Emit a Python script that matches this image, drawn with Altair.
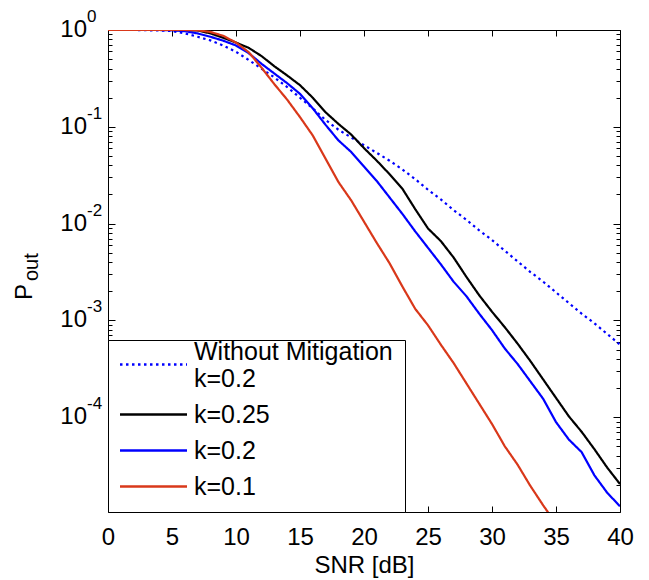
import altair as alt
import pandas as pd

# ---------------- data ----------------
snr = list(range(0, 41))

series_names = ["Without Mitigation k=0.2", "k=0.25", "k=0.2", "k=0.1"]

# log10(P_out) at SNR = 0,1,...,40 dB
without_mitigation_log10 = [0, 0, 0, -0.002, -0.005, -0.01, -0.035, -0.07, -0.107, -0.16,
                            -0.225, -0.31, -0.40, -0.49, -0.59, -0.70, -0.81, -0.93, -1.03, -1.11,
                            -1.19, -1.27, -1.35, -1.44, -1.54, -1.65, -1.75, -1.86, -1.96, -2.07,
                            -2.17, -2.28, -2.39, -2.50, -2.60, -2.71, -2.82, -2.93, -3.03, -3.14,
                            -3.25]
k025_log10 = [0, 0, 0, 0, 0, 0, -0.002, -0.005, -0.035, -0.08,
              -0.13, -0.185, -0.27, -0.375, -0.47, -0.57, -0.70, -0.85, -0.97, -1.08,
              -1.22, -1.35, -1.49, -1.64, -1.85, -2.05, -2.18, -2.35, -2.55, -2.74,
              -2.91, -3.07, -3.24, -3.42, -3.61, -3.80, -3.99, -4.15, -4.33, -4.52,
              -4.69]
k02_log10 = [0, 0, 0, 0, 0, -0.003, -0.012, -0.035, -0.07, -0.11,
             -0.16, -0.24, -0.35, -0.45, -0.55, -0.66, -0.81, -0.98, -1.14, -1.26,
             -1.41, -1.56, -1.73, -1.90, -2.08, -2.25, -2.42, -2.60, -2.75, -2.93,
             -3.10, -3.29, -3.45, -3.63, -3.81, -4.05, -4.23, -4.36, -4.60, -4.78,
             -4.92]
k01_log10 = [0, 0, 0, 0, 0, 0, 0, -0.003, -0.02, -0.06,
             -0.13, -0.23, -0.39, -0.56, -0.72, -0.90, -1.09, -1.33, -1.57, -1.76,
             -1.98, -2.20, -2.41, -2.65, -2.88, -3.05, -3.25, -3.44, -3.65, -3.86,
             -4.07, -4.30, -4.49, -4.71, -4.91, -5.10]

series_log10 = [without_mitigation_log10, k025_log10, k02_log10, k01_log10]
series_colors = ["#0000FF", "#000000", "#0000FF", "#D9381A"]
series_dash = [[2.5, 3.5], [1, 0], [1, 0], [1, 0]]

x_ticks = [0, 5, 10, 15, 20, 25, 30, 35, 40]
y_major_exps = [0, -1, -2, -3, -4]
y_minor_mult = [2, 3, 4, 5, 6, 7, 8, 9]
y_minor_exps = [-5, -4, -3, -2, -1]

# ---------------- build tables ----------------
rows = []
for name, vals in zip(series_names, series_log10):
    for s, v in zip(snr, vals):
        rows.append({"snr": s, "p": 10 ** v, "series": name})
df = pd.DataFrame(rows)

y_major = [10.0 ** e for e in y_major_exps]
y_minor = [m * 10.0 ** e for e in y_minor_exps for m in y_minor_mult if m * 10.0 ** e < 1]
lab_df = pd.DataFrame({"p": y_major, "exp": [str(e) for e in y_major_exps]})

W, H = 512, 482
FONT = "Liberation Sans"

xscale = alt.Scale(domain=[0, 40], nice=False, zero=False)
yscale = alt.Scale(type="log", domain=[1.05e-5, 1], nice=False)

two_line = "datum.label == 'Without Mitigation k=0.2'"
legend = alt.Legend(
    orient="bottom-left", offset=0, title=None,
    labelFont=FONT, labelFontSize=25, labelColor="black", labelLimit=400,
    labelOffset=28,
    labelExpr=two_line + " ? ['Without Mitigation', 'k=0.2'] : datum.label",
    labelBaseline=alt.ExprRef(two_line + " ? 'bottom' : 'middle'"),
    symbolType="M-3,0H3", symbolSize=499, symbolStrokeWidth=2.5, symbolOffset=21,
    strokeColor="black", fillColor="white", padding=12, rowPadding=10,
)

lines = alt.Chart(df).mark_line(strokeWidth=2.2, clip=True).encode(
    x=alt.X("snr:Q", scale=xscale,
            axis=alt.Axis(values=x_ticks, title="SNR [dB]", ticks=False, tickSize=0,
                          labelFont=FONT, labelFontSize=24, labelColor="black",
                          labelPadding=13, labelFlush=False, labelOverlap=False,
                          titleFont=FONT, titleFontSize=24, titleFontWeight="normal",
                          titleColor="black", titlePadding=4, grid=False,
                          domainColor="black", domainWidth=1)),
    y=alt.Y("p:Q", scale=yscale,
            axis=alt.Axis(labels=False, ticks=False, tickSize=0, title=None, grid=False,
                          domainColor="black", domainWidth=1)),
    color=alt.Color("series:N", scale=alt.Scale(domain=series_names, range=series_colors),
                    sort=series_names, legend=legend),
    strokeDash=alt.StrokeDash("series:N", scale=alt.Scale(domain=series_names, range=series_dash),
                              sort=series_names, legend=legend),
    order=alt.Order("snr:Q"),
)


def x_tick_layer(orient, show_domain):
    return alt.Chart(df).mark_rule(opacity=0).encode(
        x=alt.X("snr:Q", scale=xscale,
                axis=alt.Axis(orient=orient, offset=-H, values=x_ticks, labels=False,
                              ticks=True, tickSize=6, tickColor="black", tickWidth=1,
                              domain=show_domain, domainColor="black", domainWidth=1,
                              grid=False, title=None)))


def y_tick_layer(orient, values, size, show_domain):
    return alt.Chart(df).mark_rule(opacity=0).encode(
        y=alt.Y("p:Q", scale=yscale,
                axis=alt.Axis(orient=orient, offset=-W, values=values, labels=False,
                              ticks=True, tickSize=size, tickColor="black", tickWidth=1,
                              domain=show_domain, domainColor="black", domainWidth=1,
                              grid=False, title=None)))


xt_bottom = x_tick_layer("top", False)
xt_top = x_tick_layer("bottom", True)
yt_left_major = y_tick_layer("right", y_major, 7, False)
yt_left_minor = y_tick_layer("right", y_minor, 4, False)
yt_right_major = y_tick_layer("left", y_major, 7, True)
yt_right_minor = y_tick_layer("left", y_minor, 4, False)

ten_text = alt.Chart(lab_df).mark_text(
    align="right", baseline="middle", font=FONT, fontSize=24, color="black"
).encode(x=alt.value(-21), y=alt.Y("p:Q", scale=yscale, axis=None), text=alt.value("10"))

exp_text = alt.Chart(lab_df).mark_text(
    align="left", baseline="middle", font=FONT, fontSize=17, color="black", dy=-13
).encode(x=alt.value(-21), y=alt.Y("p:Q", scale=yscale, axis=None), text="exp:N")

title_df = pd.DataFrame({"t": ["P"]})
p_text = alt.Chart(title_df).mark_text(
    align="left", baseline="alphabetic", angle=270, font=FONT, fontSize=24, color="black"
).encode(x=alt.value(-76), y=alt.value(270), text=alt.value("P"))
out_text = alt.Chart(title_df).mark_text(
    align="left", baseline="alphabetic", angle=270, font=FONT, fontSize=20, color="black"
).encode(x=alt.value(-70), y=alt.value(251), text=alt.value("out"))

chart = alt.layer(
    lines, xt_bottom, xt_top, yt_left_major, yt_left_minor, yt_right_major, yt_right_minor,
    ten_text, exp_text, p_text, out_text
).resolve_axis(x="independent", y="independent").properties(
    width=W, height=H,
    autosize=alt.AutoSizeParams(type="none"),
    padding={"left": 100, "top": 22, "right": 20, "bottom": 66},
).configure_view(stroke=None).configure(background="white")

chart.save("out.html", embed_options={"renderer": "svg", "actions": False})
